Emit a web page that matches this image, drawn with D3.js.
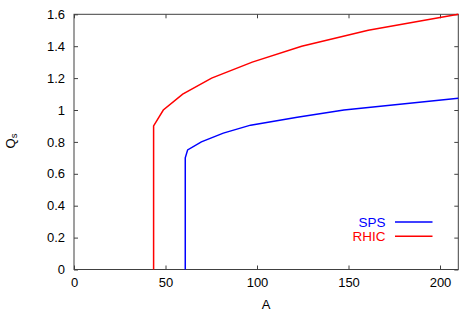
<!DOCTYPE html>
<html>
<head>
<meta charset="utf-8">
<script src="https://cdn.jsdelivr.net/npm/d3@7"></script>
<style>
  body { margin: 0; background: #fff; }
  text { font-family: "Liberation Sans", Arial, sans-serif; }
</style>
</head>
<body>
<div id="chart"></div>
<script>
// data
var spsA = [60.8, 60.8, 62.1, 69.6, 81.6, 96.5, 122, 147.5, 210];
var spsQ = [0, 0.70, 0.75, 0.80, 0.855, 0.905, 0.955, 1.0, 1.073];
var rhicA = [43.5, 43.5, 48.8, 59.4, 75.2, 97.4, 124.4, 160.8, 210];
var rhicQ = [0, 0.90, 1.0, 1.10, 1.20, 1.30, 1.40, 1.50, 1.60];
var xTicks = [0, 50, 100, 150, 200];
var yTicks = [0, 0.2, 0.4, 0.6, 0.8, 1, 1.2, 1.4, 1.6];
var seriesNames = ["SPS", "RHIC"];
var seriesColors = ["#0000ff", "#ff0000"];

var margin = { top: 14.3, right: 8.7, bottom: 57.5, left: 74 },
    width = 467 - margin.left - margin.right,
    height = 327 - margin.top - margin.bottom;

var svg = d3.select("#chart")
    .append("svg")
    .attr("width", 467)
    .attr("height", 327)
    .append("g")
    .attr("transform", "translate(" + margin.left + "," + margin.top + ")");

var x = d3.scaleLinear().domain([0, 210]).range([0, width]);
var y = d3.scaleLinear().domain([0, 1.6]).range([height, 0]);

var tickLen = 4;
var border = "#404040";

// bottom axis
var xb = svg.append("g")
    .attr("transform", "translate(0," + height + ")")
    .call(d3.axisBottom(x).tickValues(xTicks).tickSize(-tickLen).tickPadding(8).tickFormat(d3.format("d")));
// top axis (mirror ticks)
var xt = svg.append("g")
    .call(d3.axisTop(x).tickValues(xTicks).tickSize(-tickLen).tickFormat(""));
// left axis
var yl = svg.append("g")
    .call(d3.axisLeft(y).tickValues(yTicks).tickSize(-tickLen).tickPadding(9).tickFormat(function (d) { return d3.format("")(+d.toFixed(1)); }));
// right axis (mirror ticks)
var yr = svg.append("g")
    .attr("transform", "translate(" + width + ",0)")
    .call(d3.axisRight(y).tickValues(yTicks).tickSize(-tickLen).tickFormat(""));

[xb, xt, yl, yr].forEach(function (g) {
    g.select(".domain").remove();
    g.selectAll("line").attr("stroke", border);
    g.selectAll("text")
        .attr("fill", "#000")
        .style("font-size", "13px")
        .style("font-family", "'Liberation Sans', Arial, sans-serif");
});

// frame
svg.append("rect")
    .attr("x", 0).attr("y", 0)
    .attr("width", width).attr("height", height)
    .attr("fill", "none")
    .attr("stroke", border)
    .attr("stroke-width", 1);

// lines
var line = d3.line()
    .x(function (d) { return x(d[0]); })
    .y(function (d) { return y(d[1]); });

var series = [d3.zip(spsA, spsQ), d3.zip(rhicA, rhicQ)];
series.forEach(function (pts, i) {
    svg.append("path")
        .datum(pts)
        .attr("fill", "none")
        .attr("stroke", seriesColors[i])
        .attr("stroke-width", 1.5)
        .attr("d", line);
});

// legend
seriesNames.forEach(function (name, i) {
    var ly = 222 + i * 14.3 - margin.top;
    svg.append("text")
        .attr("x", 385.5 - margin.left)
        .attr("y", ly)
        .attr("dy", "0.35em")
        .attr("text-anchor", "end")
        .attr("fill", seriesColors[i])
        .style("font-size", "13.5px")
        .text(name);
    svg.append("line")
        .attr("x1", 395 - margin.left)
        .attr("x2", 432.5 - margin.left)
        .attr("y1", ly).attr("y2", ly)
        .attr("stroke", seriesColors[i])
        .attr("stroke-width", 1.5);
});

// axis labels
svg.append("text")
    .attr("x", 266 - margin.left)
    .attr("y", 304 - margin.top)
    .attr("dy", "0.35em")
    .attr("text-anchor", "middle")
    .style("font-size", "13px")
    .text("A");

var yLab = svg.append("text")
    .attr("transform", "translate(" + (14.5 - margin.left) + "," + (141 - margin.top) + ") rotate(-90)")
    .attr("text-anchor", "middle")
    .style("font-size", "13px");
yLab.append("tspan").text("Q");
yLab.append("tspan").attr("dy", "0.3em").style("font-size", "9.5px").text("s");
</script>
</body>
</html>
